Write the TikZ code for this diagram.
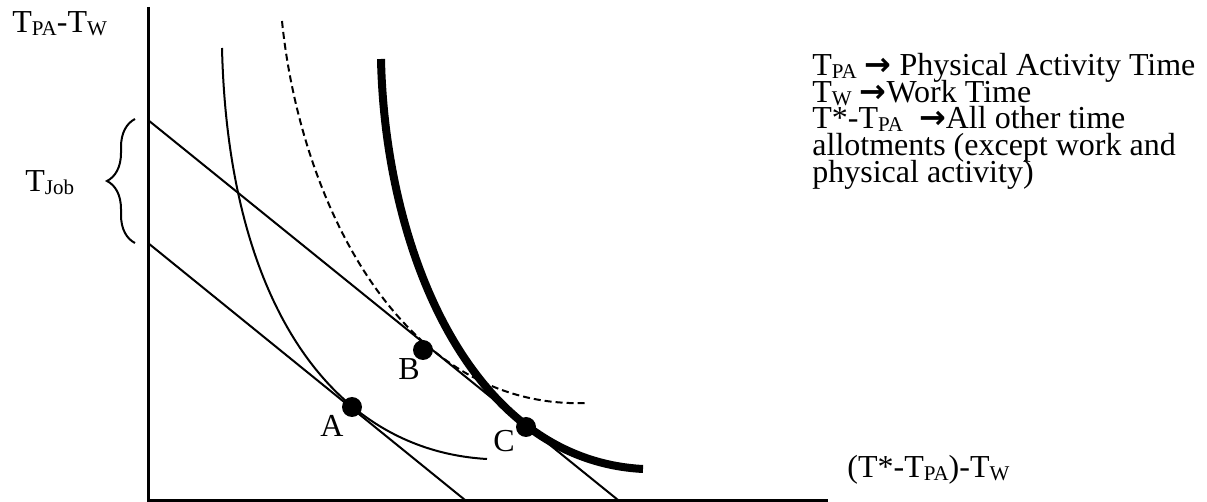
\documentclass[tikz,border=0pt]{standalone}
\usepackage{fontspec}
\setmainfont{Liberation Serif}
\newfontfamily\arrowfont{DejaVu Sans}
\usetikzlibrary{decorations.pathreplacing}
\newcommand{\lowsub}[1]{\raisebox{-1.5pt}{\fontsize{10.5}{10}\selectfont #1}}
\newcommand{\fatarrow}{{\arrowfont\bfseries →}}
\newcommand{\tightlines}{\lineskiplimit=-20pt\relax}

\begin{document}
\begin{tikzpicture}[x=0.5pt,y=-0.5pt,font=\fontsize{16}{13.3}\selectfont\tightlines,
  thin/.style={line width=1pt},
  dot/.style={circle,fill=black,inner sep=0pt,minimum size=10pt},
  lab/.style={anchor=base,inner sep=0pt}]
\useasboundingbox (0,0) rectangle (1207,502);
% axes
\draw[line width=1.5pt] (148,7) -- (148,500.5) -- (828,500.5);
\node[lab,anchor=base west] (ylab) at (12,33) {T\lowsub{PA}-T\lowsub{W}};
\node[lab,anchor=base west] (xlab) at (847,478) {(T*-T\lowsub{PA})-T\lowsub{W}};
% budget lines
\draw[thin] (148,120) -- (618,500);
\draw[thin] (148,243) -- (465,500);
% indifference curves
\draw[thin] (222,48) .. controls (228,300) and (330,450) .. (487,459);
\draw[thin,dash pattern=on 3.5pt off 2pt] (282,21) .. controls (300,200) and (400,410) .. (587,403);
\draw[line width=4pt] (381,59) .. controls (385,250) and (470,460) .. (643,469);
% brace
\draw[thin,decorate,decoration={brace,amplitude=14pt}] (135,243) -- (135,119);
\node[lab,anchor=base west] (tjob) at (25,192) {T\lowsub{Job}};
% points
\node[dot] (dA) at (352,407) {};
\node[dot] (dB) at (423,350) {};
\node[dot] (dC) at (526,427) {};
\node[lab] (labA) at (332,437) {A};
\node[lab] (labB) at (409,380) {B};
\node[lab] (labC) at (504,452) {C};
% legend
\node[anchor=north west,inner sep=0pt,align=left] (legend) at (812,53)
  {T\lowsub{PA} \fatarrow{} Physical Activity Time\\
   T\lowsub{W} \fatarrow Work Time\\
   T*-T\lowsub{PA}\ \ \fatarrow All other time\\
   allotments (except work and\\
   physical activity)};
\end{tikzpicture}
\end{document}
